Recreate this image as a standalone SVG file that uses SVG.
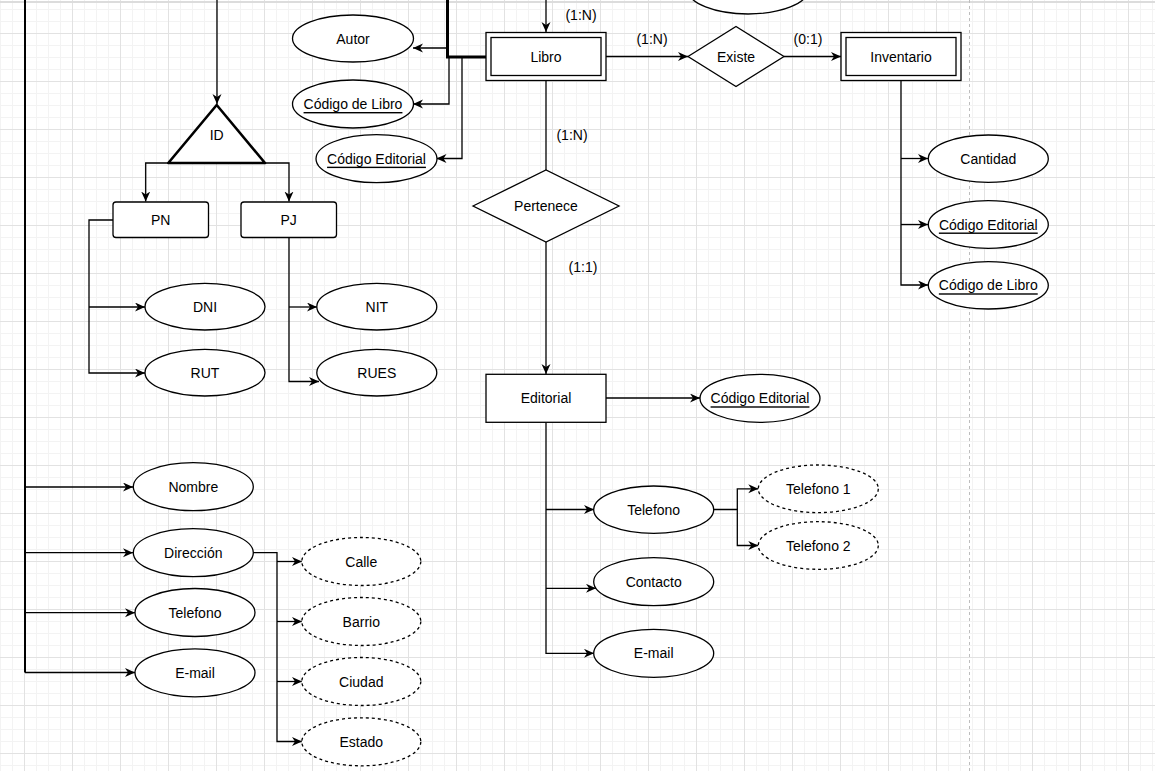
<svg xmlns="http://www.w3.org/2000/svg" width="1155" height="771" viewBox="0 0 1155 771">
<defs>
<pattern id="minor" x="24" y="33" width="12" height="12" patternUnits="userSpaceOnUse">
<path d="M0.5,0 V12 M0,0.5 H12" stroke="#f3f3f3" stroke-width="1" fill="none"/>
</pattern>
<pattern id="major" x="24" y="33" width="48" height="48" patternUnits="userSpaceOnUse">
<path d="M0.5,0 V48 M0,0.5 H48" stroke="#e2e2e2" stroke-width="1" fill="none"/>
</pattern>
<marker id="arr" markerWidth="11" markerHeight="10" refX="10" refY="4.5" orient="auto" markerUnits="userSpaceOnUse">
<path d="M0,0 L10,4.5 L0,9 L3,4.5 Z" fill="#000"/>
</marker>
<style>
.t{font-family:"Liberation Sans",Arial,sans-serif;font-size:14px;fill:#000;text-anchor:middle;dominant-baseline:central}
.u{text-decoration:underline}
.e{fill:#fff;stroke:#000;stroke-width:1.3}
.d{fill:#fff;stroke:#000;stroke-width:1.3;stroke-dasharray:3 3}
.r{fill:#fff;stroke:#000;stroke-width:1.3}
.c{fill:none;stroke:#000;stroke-width:1.3}
.a{marker-end:url(#arr)}
</style>
</defs>
<rect width="1155" height="771" fill="#fff"/>
<rect width="1155" height="771" fill="url(#minor)"/>
<rect width="1155" height="771" fill="url(#major)"/>
<line x1="0" y1="2" x2="1155" y2="2" stroke="#dcdcdc" stroke-width="2"/>
<line x1="969.5" y1="0" x2="969.5" y2="771" stroke="#bdbdbd" stroke-width="1" stroke-dasharray="3 3"/>

<g id="connectors">
<path class="c" d="M25,0 V672.5" style="stroke-width:2"/>
<path class="c a" d="M25,487 H133"/>
<path class="c a" d="M25,552.7 H133"/>
<path class="c a" d="M25,612.7 H135"/>
<path class="c a" d="M25,672.5 H135"/>
<path class="c a" d="M217,0 V104"/>
<path class="c a" d="M168,163 H145.7 V201.5"/>
<path class="c a" d="M265,163 H289 V201.5"/>
<path class="c a" d="M113,220 H89 V373 H145"/>
<path class="c a" d="M89,307 H145"/>
<path class="c a" d="M289,238 V381.5 H319"/>
<path class="c a" d="M289,307 H317"/>
<path class="c a" d="M253,552.7 H277 V741.5 H302"/>
<path class="c a" d="M277,561.5 H302"/>
<path class="c a" d="M277,621.5 H302"/>
<path class="c a" d="M277,681.5 H302"/>
<path class="c" d="M447.5,0 V57 H486" style="stroke-width:3"/>
<path class="c a" d="M449,48 H413"/>
<path class="c a" d="M449,57 V104 H413"/>
<path class="c a" d="M462,57 V158.5 H436.5"/>
<path class="c a" d="M546,0 V32"/>
<path class="c a" d="M606,56.5 H688"/>
<path class="c a" d="M784,56.5 H841"/>
<path class="c" d="M546,81 V170"/>
<path class="c a" d="M546,242 V374"/>
<path class="c a" d="M606,398 H700"/>
<path class="c a" d="M546,422 V653.3 H594"/>
<path class="c a" d="M546,509.5 H594"/>
<path class="c a" d="M546,588.3 H596"/>
<path class="c a" d="M714,509.5 H737.3 V545.5 H758.3"/>
<path class="c a" d="M737.3,509.5 V488.8 H758.3"/>
<path class="c a" d="M901,81 V285 H928"/>
<path class="c a" d="M901,158.5 H928"/>
<path class="c a" d="M901,224.5 H928"/>
<text class="t" x="581" y="15">(1:N)</text>
<text class="t" x="652" y="39">(1:N)</text>
<text class="t" x="808" y="39">(0:1)</text>
<text class="t" x="572" y="135">(1:N)</text>
<text class="t" x="583" y="267">(1:1)</text>
</g>

<g id="hidden-top"><ellipse class="e" cx="748" cy="-10" rx="60" ry="24"/></g>

<g id="libro">
<rect class="r" x="486" y="32.5" width="120" height="48"/>
<rect class="r" x="491" y="37.5" width="110" height="38"/>
<text class="t" x="546" y="56.5">Libro</text>
</g>
<g id="existe">
<polygon class="r" points="688,56.5 736,26.5 784,56.5 736,86.5"/>
<text class="t" x="736" y="56.5">Existe</text>
</g>
<g id="inventario">
<rect class="r" x="841" y="32.5" width="120" height="48"/>
<rect class="r" x="846" y="37.5" width="110" height="38"/>
<text class="t" x="901" y="56.5">Inventario</text>
</g>
<g id="autor"><ellipse class="e" cx="353" cy="38.5" rx="60.5" ry="23.5"/><text class="t" x="353" y="38.5">Autor</text></g>
<g id="codigo-libro"><ellipse class="e" cx="353" cy="104" rx="60.5" ry="24"/><text class="t u" x="353" y="104">Código de Libro</text></g>
<g id="codigo-editorial"><ellipse class="e" cx="376.5" cy="158.7" rx="60.5" ry="24"/><text class="t u" x="376.5" y="158.7">Código Editorial</text></g>
<g id="cantidad"><ellipse class="e" cx="988.3" cy="158.7" rx="60" ry="23.7"/><text class="t" x="988.3" y="158.7">Cantidad</text></g>
<g id="inv-codigo-editorial"><ellipse class="e" cx="988.3" cy="224.5" rx="60" ry="23.8"/><text class="t u" x="988.3" y="224.5">Código Editorial</text></g>
<g id="inv-codigo-libro"><ellipse class="e" cx="988.3" cy="285.3" rx="60" ry="23.7"/><text class="t u" x="988.3" y="285.3">Código de Libro</text></g>
<g id="id">
<polygon points="216.7,105 265,163 168.3,163" fill="#fff" stroke="#000" stroke-width="2.6" stroke-linejoin="round"/>
<text class="t" x="216.7" y="135">ID</text>
</g>
<g id="pn"><rect class="r" x="113" y="202" width="95.5" height="35.5" rx="3"/><text class="t" x="160.7" y="219.8">PN</text></g>
<g id="pj"><rect class="r" x="241" y="202" width="95.5" height="35.5" rx="3"/><text class="t" x="288.7" y="219.8">PJ</text></g>
<g id="dni"><ellipse class="e" cx="205" cy="306.7" rx="60" ry="23.3"/><text class="t" x="205" y="306.7">DNI</text></g>
<g id="rut"><ellipse class="e" cx="205" cy="372.7" rx="60" ry="23.3"/><text class="t" x="205" y="372.7">RUT</text></g>
<g id="nit"><ellipse class="e" cx="376.8" cy="306.7" rx="60" ry="23.3"/><text class="t" x="376.8" y="306.7">NIT</text></g>
<g id="rues"><ellipse class="e" cx="376.8" cy="372.7" rx="60" ry="23.3"/><text class="t" x="376.8" y="372.7">RUES</text></g>
<g id="nombre"><ellipse class="e" cx="193.3" cy="486.7" rx="60" ry="24"/><text class="t" x="193.3" y="486.7">Nombre</text></g>
<g id="direccion"><ellipse class="e" cx="193.3" cy="552.7" rx="60" ry="24"/><text class="t" x="193.3" y="552.7">Dirección</text></g>
<g id="telefono"><ellipse class="e" cx="195" cy="612.5" rx="60" ry="24"/><text class="t" x="195" y="612.5">Telefono</text></g>
<g id="email"><ellipse class="e" cx="195" cy="672.8" rx="60" ry="24"/><text class="t" x="195" y="672.8">E-mail</text></g>
<g id="calle"><ellipse class="d" cx="361.3" cy="561.5" rx="59.5" ry="24"/><text class="t" x="361.3" y="561.5">Calle</text></g>
<g id="barrio"><ellipse class="d" cx="361.3" cy="621.5" rx="59.5" ry="24"/><text class="t" x="361.3" y="621.5">Barrio</text></g>
<g id="ciudad"><ellipse class="d" cx="361.3" cy="681.5" rx="59.5" ry="24"/><text class="t" x="361.3" y="681.5">Ciudad</text></g>
<g id="estado"><ellipse class="d" cx="361.3" cy="741.8" rx="59.5" ry="24"/><text class="t" x="361.3" y="741.8">Estado</text></g>
<g id="pertenece">
<polygon class="r" points="473,206 546,170 619,206 546,242"/>
<text class="t" x="546" y="206">Pertenece</text>
</g>
<g id="editorial"><rect class="r" x="486" y="374.3" width="120" height="48"/><text class="t" x="546" y="398.3">Editorial</text></g>
<g id="ed-codigo-editorial"><ellipse class="e" cx="760" cy="398.3" rx="60" ry="24"/><text class="t u" x="760" y="398.3">Código Editorial</text></g>
<g id="ed-telefono"><ellipse class="e" cx="653.7" cy="509.7" rx="60" ry="23.7"/><text class="t" x="653.7" y="509.7">Telefono</text></g>
<g id="contacto"><ellipse class="e" cx="653.7" cy="581.7" rx="60" ry="24"/><text class="t" x="653.7" y="581.7">Contacto</text></g>
<g id="ed-email"><ellipse class="e" cx="653.7" cy="653.3" rx="60" ry="24"/><text class="t" x="653.7" y="653.3">E-mail</text></g>
<g id="telefono1"><ellipse class="d" cx="818.3" cy="488.8" rx="60" ry="23.8"/><text class="t" x="818.3" y="488.8">Telefono 1</text></g>
<g id="telefono2"><ellipse class="d" cx="818.3" cy="545.5" rx="60" ry="23.8"/><text class="t" x="818.3" y="545.5">Telefono 2</text></g>
</svg>
